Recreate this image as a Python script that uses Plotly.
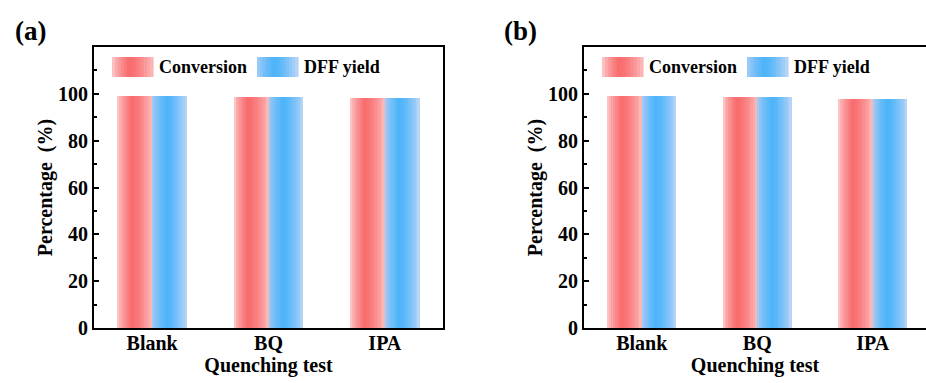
import plotly.graph_objects as go

# ---------------- data ----------------
categories = ["Blank", "BQ", "IPA"]
conv_a = [99.2, 98.8, 98.2]
dff_a = [99.2, 98.8, 98.2]
conv_b = [98.9, 98.5, 97.7]
dff_b = [98.9, 98.5, 97.7]
series_names = ["Conversion", "DFF yield"]
y_ticks = [0, 20, 40, 60, 80, 100]
panel_labels = ["(a)", "(b)"]

W, H = 926, 383
FONT = "Liberation Serif, Times New Roman, Times, serif"

# gradient profiles (left edge, peak, right edge)
RED = [(252, 212, 212), (249, 108, 110), (252, 188, 188)]
BLUE = [(172, 206, 246), (78, 180, 250), (190, 214, 246)]
PEAK_T = 0.4
NSLICE = 18
BAR_W = 0.3


def grad_color(prof, t):
    l, p, r = prof
    if t <= PEAK_T:
        f = (t / PEAK_T) ** 0.7
        a, b = l, p
    else:
        f = ((t - PEAK_T) / (1 - PEAK_T)) ** 1.6
        a, b = p, r
    c = [round(a[i] + (b[i] - a[i]) * f) for i in range(3)]
    return "rgb(%d,%d,%d)" % tuple(c)


fig = go.Figure()

panels = [
    dict(conv=conv_a, dff=dff_a, xa="x", ya="y"),
    dict(conv=conv_b, dff=dff_b, xa="x2", ya="y2"),
]

for p in panels:
    for vals, prof, base in [(p["conv"], RED, -BAR_W), (p["dff"], BLUE, 0.0)]:
        sw = BAR_W / NSLICE
        for k in range(NSLICE):
            t = (k + 0.5) / NSLICE
            fig.add_trace(go.Bar(
                x=categories, y=vals,
                width=sw * 1.08 if k < NSLICE - 1 else sw,
                offset=base + k * sw,
                marker=dict(color=grad_color(prof, t), line=dict(width=0)),
                xaxis=p["xa"], yaxis=p["ya"],
                showlegend=False, hoverinfo="skip",
            ))

# geometry (pixels)
ya_top, ya_bot = 47, 328
yd = [1 - ya_bot / H, 1 - ya_top / H]
xa_dom = [94 / W, 443 / W]
xb_dom = [584 / W, 1.0]
cat_px = 115.5
xb_span = (W - 584) / cat_px

tickfont = dict(family=FONT, size=20, color="black")
titlefont = dict(family=FONT, size=20, color="black")

common_x = dict(
    type="category", showline=True, linecolor="black", linewidth=2,
    ticks="", tickfont=tickfont, showgrid=False, zeroline=False,
    title=dict(text="<b>Quenching test</b>", font=titlefont, standoff=0),
    ticklabelstandoff=-4, automargin=False,
)
common_y = dict(
    range=[0, 120], domain=yd, showline=True, linecolor="black", linewidth=2,
    ticks="inside", ticklen=5, tickwidth=1.5, tickcolor="black",
    tickvals=y_ticks, ticktext=["<b>%d</b>" % v for v in y_ticks],
    tickfont=tickfont, showgrid=False, zeroline=False, automargin=False,
    minor=dict(ticks="inside", ticklen=3, tickwidth=1.5, tickcolor="black", dtick=10, tick0=0),
    title=dict(text="<b>Percentage  (%)</b>", font=titlefont, standoff=0),
)

fig.update_layout(
    width=W, height=H,
    margin=dict(l=0, r=0, t=0, b=0, autoexpand=False),
    paper_bgcolor="white", plot_bgcolor="white",
    barmode="overlay", bargap=0,
    showlegend=False,
    xaxis=dict(common_x, domain=xa_dom, range=[-0.5, 2.5], anchor="y", mirror=True,
               ticktext=["<b>%s</b>" % c for c in categories], tickvals=categories),
    yaxis=dict(common_y, anchor="x", mirror=True),
    xaxis2=dict(common_x, domain=xb_dom, range=[-0.5, -0.5 + xb_span], anchor="y2", mirror=True,
                ticktext=["<b>%s</b>" % c for c in categories], tickvals=categories),
    yaxis2=dict(common_y, anchor="x2", mirror=False),
)

# panel labels
for lbl, px in zip(panel_labels, [13, 502]):
    fig.add_annotation(text="<b>%s</b>" % lbl, x=px / W, y=1 - 31 / H, xref="paper", yref="paper",
                       xanchor="left", yanchor="middle", showarrow=False,
                       font=dict(family=FONT, size=27, color="black"))

# legends (gradient swatches + labels)
def add_swatch(x0px, prof):
    n = 14
    w = 41
    for k in range(n):
        t = (k + 0.5) / n
        fig.add_shape(type="rect", xref="paper", yref="paper",
                      x0=(x0px + k * w / n) / W, x1=(x0px + (k + 1) * w / n + 0.6) / W,
                      y0=1 - 77 / H, y1=1 - 57 / H,
                      fillcolor=grad_color(prof, t), line=dict(width=0), layer="above")

for offs in [0, 490]:
    add_swatch(112 + offs, RED)
    add_swatch(257 + offs, BLUE)
    fig.add_annotation(text="<b>%s</b>" % series_names[0], x=(157 + offs) / W, y=1 - 67 / H,
                       xref="paper", yref="paper", xanchor="left", yanchor="middle",
                       showarrow=False, font=dict(family=FONT, size=18, color="black"))
    fig.add_annotation(text="<b>%s</b>" % series_names[1], x=(302 + offs) / W, y=1 - 67 / H,
                       xref="paper", yref="paper", xanchor="left", yanchor="middle",
                       showarrow=False, font=dict(family=FONT, size=18, color="black"))

fig.write_html("out.html")
